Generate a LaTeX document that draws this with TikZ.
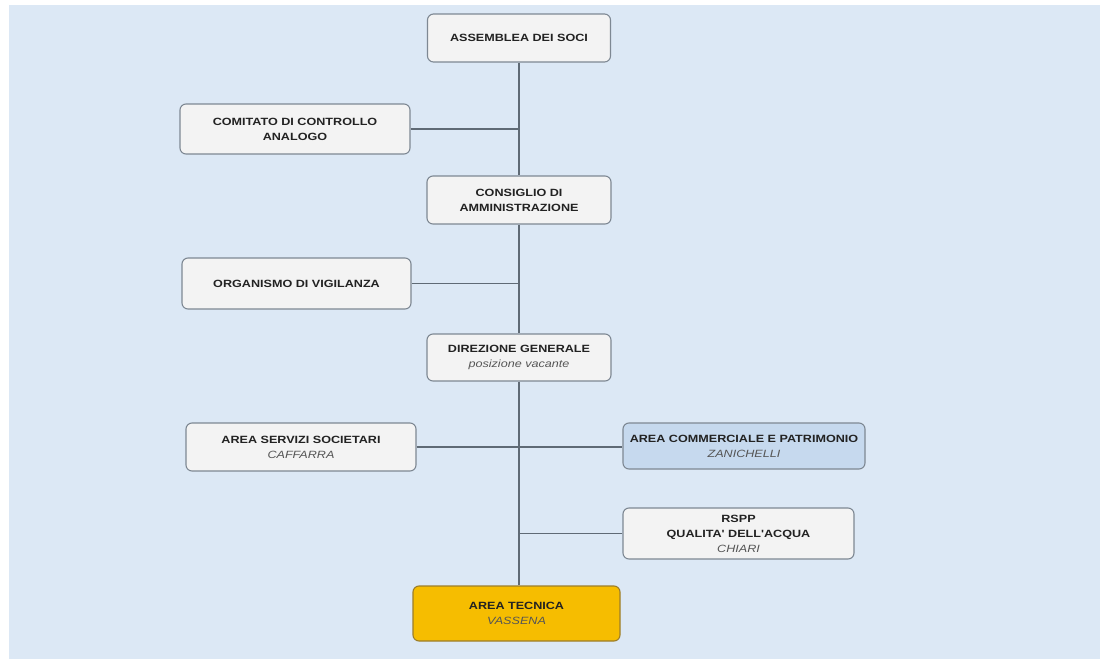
\documentclass[tikz,border=0pt]{standalone}
\usepackage{fontspec}
\setmainfont{Liberation Sans}
\newfontfamily\boxfont[FakeStretch=1.2]{Liberation Sans}
\definecolor{bgblue}{HTML}{DCE8F5}
\definecolor{boxfill}{HTML}{F3F3F3}
\definecolor{boxline}{HTML}{7E8893}
\definecolor{linecol}{HTML}{5F6A75}
\definecolor{commfill}{HTML}{C6D9EE}
\definecolor{tecfill}{HTML}{F6BD00}
\definecolor{tecline}{HTML}{9C7E2A}
\definecolor{txt}{HTML}{222222}
\definecolor{nametxt}{HTML}{555555}
\tikzset{
  orgbox/.style={draw=boxline, line width=1.1pt, fill=boxfill, rounded corners=6pt,
    align=center, inner sep=0pt, font=\boxfont\bfseries\fontsize{10.5}{15}\selectfont,
    text=txt},
  conn/.style={draw=linecol, line width=1.1pt}
}
\newcommand{\who}[1]{{\mdseries\itshape\color{nametxt}#1}}
\begin{document}
\begin{tikzpicture}[x=1pt,y=-1pt]
\useasboundingbox (0,0) rectangle (1104,659);
\fill[white] (0,0) rectangle (1104,659);
\fill[bgblue] (9,5) rectangle (1100,659);

\node[orgbox, minimum width=183pt, minimum height=48pt] (assemblea) at (519,38) {ASSEMBLEA DEI SOCI};
\node[orgbox, minimum width=230pt, minimum height=50pt] (comitato) at (295,129) {COMITATO DI CONTROLLO\\ANALOGO};
\node[orgbox, minimum width=184pt, minimum height=48pt] (consiglio) at (519,200) {CONSIGLIO DI\\AMMINISTRAZIONE};
\node[orgbox, minimum width=229pt, minimum height=51pt] (organismo) at (296.5,283.5) {ORGANISMO DI VIGILANZA};
\node[orgbox, minimum width=184pt, minimum height=47pt] (direzione) at (519,357.5) {DIREZIONE GENERALE\\\who{posizione vacante}};
\node[orgbox, minimum width=230pt, minimum height=48pt] (servizi) at (301,447) {AREA SERVIZI SOCIETARI\\\who{CAFFARRA}};
\node[orgbox, fill=commfill, minimum width=242pt, minimum height=46pt] (commerciale) at (744,446) {AREA COMMERCIALE E PATRIMONIO\\\who{ZANICHELLI}};
\node[orgbox, minimum width=231pt, minimum height=51pt] (rspp) at (738.5,533.5) {RSPP\\QUALITA' DELL'ACQUA\\\who{CHIARI}};
\node[orgbox, fill=tecfill, draw=tecline, minimum width=207pt, minimum height=55pt] (tecnica) at (516.5,613.5) {AREA TECNICA\\\who{VASSENA}};

\begin{scope}[on background layer/.try]
\end{scope}
\draw[conn] (assemblea.south) -- (consiglio.north);
\draw[conn] (consiglio.south) -- (direzione.north);
\draw[conn] (direzione.south) -- (direzione.south |- tecnica.north);
\draw[conn] (comitato.east) -- (comitato.east -| assemblea.south);
\draw[conn] (organismo.east) -- (organismo.east -| consiglio.south);
\draw[conn] (servizi.east) -- (servizi.east -| commerciale.west);
\draw[conn] (rspp.west) -- (rspp.west -| direzione.south);
\end{tikzpicture}
\end{document}
